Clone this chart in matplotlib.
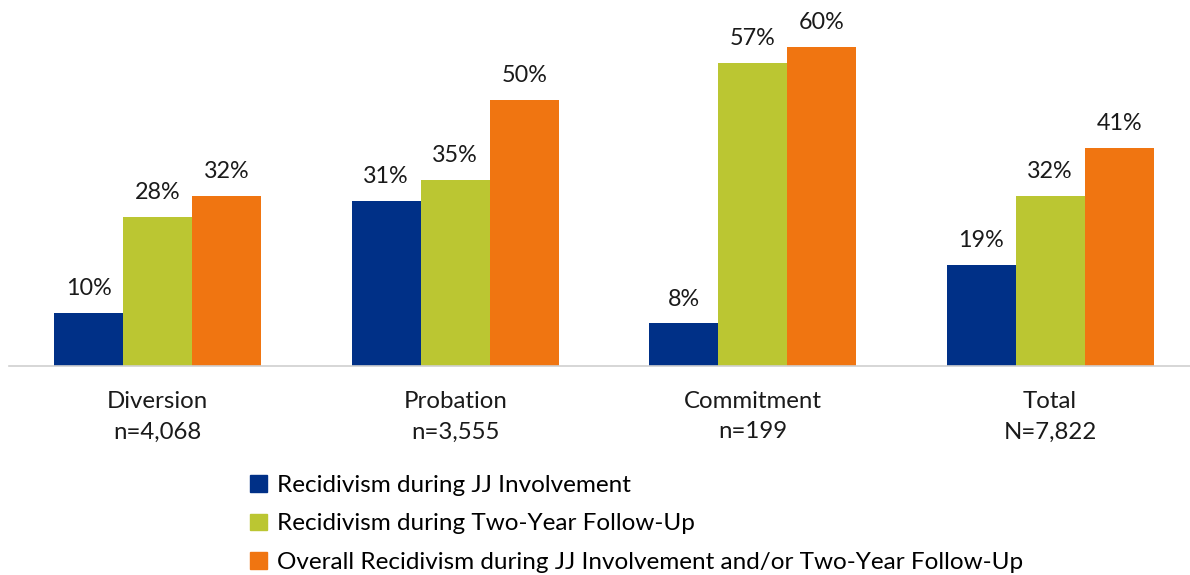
import matplotlib.pyplot as plt
import numpy as np
from matplotlib.patches import Patch

# data
categories = ['Diversion\nn=4,068', 'Probation\nn=3,555', 'Commitment\nn=199', 'Total\nN=7,822']
series_names = ['Recidivism during JJ Involvement',
                'Recidivism during Two-Year Follow-Up',
                'Overall Recidivism during JJ Involvement and/or Two-Year Follow-Up']
during_jj = [10, 31, 8, 19]
two_year = [28, 35, 57, 32]
overall = [32, 50, 60, 41]

colors = ['#003087', '#BBC632', '#F07511']

plt.rcParams['font.family'] = ['Lato', 'DejaVu Sans']

fig = plt.figure(figsize=(11.9, 5.75), dpi=100)
ax = fig.add_axes([9 / 1190, (575 - 366) / 575, 1 - 9 / 1190, 366 / 575])

x = np.arange(len(categories))
w = 0.232
for i, vals in enumerate([during_jj, two_year, overall]):
    bars = ax.bar(x + (i - 1) * w, vals, w, color=colors[i])
    for b, v in zip(bars, vals):
        ax.text(b.get_x() + b.get_width() / 2, v + 2.6, f'{v}%',
                ha='center', va='bottom', fontsize=16.8, color='#1a1a1a')

ax.set_xlim(-0.5, 3.47)
ax.set_ylim(0, 68.8)
ax.set_yticks([])
ax.set_xticks(x)
ax.set_xticklabels(categories, fontsize=17.3, color='#1a1a1a', linespacing=1.55)
ax.tick_params(axis='x', length=0, pad=18)
for s in ['top', 'right', 'left']:
    ax.spines[s].set_visible(False)
ax.spines['bottom'].set_color('#d0d0d0')
ax.spines['bottom'].set_linewidth(1.2)

handles = [Patch(color=c) for c in colors]
fig.legend(handles, series_names, loc='upper left', bbox_to_anchor=(250 / 1190, 1 - 475 / 575),
           frameon=False, fontsize=17.5, handlelength=0.68, handleheight=0.68,
           handletextpad=0.42, labelspacing=0.72, borderaxespad=0, borderpad=0)

fig.savefig('out.png', dpi=100)
